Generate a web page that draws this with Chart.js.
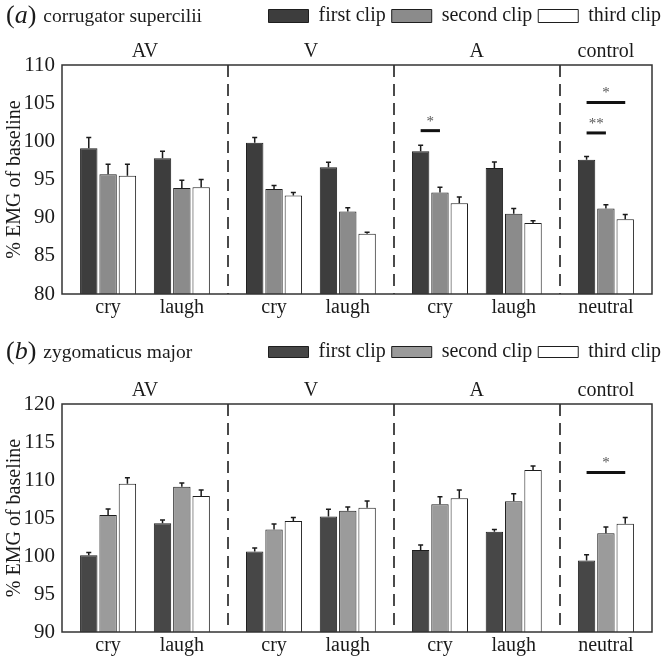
<!DOCTYPE html>
<html>
<head>
<meta charset="utf-8">
<script src="https://cdn.jsdelivr.net/npm/chart.js@4.4.1/dist/chart.umd.min.js"></script>
<style>
  body { margin: 0; background: #fff; }
  .panel { position: relative; width: 667px; height: 328px; }
</style>
</head>
<body>
<div class="panel"><canvas id="chartA"></canvas></div>
<div class="panel"><canvas id="chartB"></canvas></div>
<script>
const sections = ['AV', 'V', 'A', 'control'];
const catLabels = ['cry', 'laugh', 'cry', 'laugh', 'cry', 'laugh', 'neutral'];
const catSection = [0, 0, 1, 1, 2, 2, 3];
const seriesNames = ['first clip', 'second clip', 'third clip'];

// (a) corrugator supercilii
const corrFirst  = [99.1, 97.8, 99.8, 96.6, 98.7, 96.5, 97.6];
const corrSecond = [95.7, 93.9, 93.75, 90.8, 93.3, 90.5, 91.2];
const corrThird  = [95.5, 94.0, 92.9, 87.9, 91.9, 89.3, 89.8];
const corrFirstErr  = [1.4, 0.9, 0.7, 0.65, 0.8, 0.8, 0.4];
const corrSecondErr = [1.3, 1.0, 0.45, 0.5, 0.7, 0.7, 0.5];
const corrThirdErr  = [1.5, 1.0, 0.4, 0.2, 0.8, 0.3, 0.6];
const corrTicks = [80, 85, 90, 95, 100, 105, 110];
const corrSig = [
  { cat: 4, from: 0, to: 1, y: 101.4, mark: '*' },
  { cat: 6, from: 0, to: 1, y: 101.1, mark: '**' },
  { cat: 6, from: 0, to: 2, y: 105.1, mark: '*' }
];

// (b) zygomaticus major
const zygFirst  = [100.1, 104.3, 100.6, 105.2, 100.8, 103.2, 99.4];
const zygSecond = [105.4, 109.1, 103.5, 105.95, 106.8, 107.2, 103.0];
const zygThird  = [109.5, 107.9, 104.6, 106.35, 107.6, 111.3, 104.25];
const zygFirstErr  = [0.35, 0.45, 0.45, 0.95, 0.65, 0.3, 0.75];
const zygSecondErr = [0.8, 0.5, 0.7, 0.5, 1.0, 1.0, 0.8];
const zygThirdErr  = [0.8, 0.8, 0.45, 0.9, 1.1, 0.55, 0.8];
const zygTicks = [90, 95, 100, 105, 110, 115, 120];
const zygSig = [
  { cat: 6, from: 0, to: 2, y: 111.0, mark: '*' }
];

const FONT = 'Liberation Serif';

// x positions of the categories: 1 unit between cry/laugh, padding at section edges
const catPos = [];
const sectionEdges = [0];
let cursor = 0;
sections.forEach((s, si) => {
  const idx = catSection.map((v, i) => v === si ? i : -1).filter(i => i >= 0);
  cursor += 0.625;
  idx.forEach((i, k) => { catPos[i] = cursor + k; });
  cursor += (idx.length - 1) + 0.625;
  sectionEdges.push(cursor);
});

const panelDeco = {
  id: 'panelDeco',
  afterDatasetsDraw(chart) {
    const c = chart.ctx, a = chart.chartArea;
    const xs = chart.scales.x, ys = chart.scales.y;
    const cfg = chart.options.plugins.panelDeco;

    // error bars
    c.save();
    c.strokeStyle = '#1a1a1a';
    c.lineWidth = 1.5;
    chart.data.datasets.forEach((ds, d) => {
      chart.getDatasetMeta(d).data.forEach((bar, i) => {
        const top = ys.getPixelForValue(ds.data[i].y + ds.errors[i]);
        c.beginPath();
        c.moveTo(bar.x, bar.y);
        c.lineTo(bar.x, top);
        c.moveTo(bar.x - 2.5, top);
        c.lineTo(bar.x + 2.5, top);
        c.stroke();
      });
    });

    // dashed section dividers
    c.strokeStyle = '#4a4a4a';
    c.lineWidth = 2;
    c.setLineDash([12, 7]);
    sectionEdges.slice(1, -1).forEach(v => {
      const x = Math.round(xs.getPixelForValue(v));
      c.beginPath();
      c.moveTo(x, a.top);
      c.lineTo(x, a.bottom);
      c.stroke();
    });
    c.setLineDash([]);

    // significance bars
    cfg.sig.forEach(s => {
      const x1 = chart.getDatasetMeta(s.from).data[s.cat].x;
      const x2 = chart.getDatasetMeta(s.to).data[s.cat].x;
      const y = ys.getPixelForValue(s.y);
      c.strokeStyle = '#111';
      c.lineWidth = 3;
      c.beginPath();
      c.moveTo(x1, y);
      c.lineTo(x2, y);
      c.stroke();
      c.fillStyle = '#555';
      c.font = '15px ' + FONT;
      c.textAlign = 'center';
      c.textBaseline = 'middle';
      c.fillText(s.mark, (x1 + x2) / 2, y - 9);
    });

    // box
    c.strokeStyle = '#333';
    c.lineWidth = 1.5;
    c.strokeRect(a.left, a.top, a.right - a.left, a.bottom - a.top);

    // section labels
    c.fillStyle = '#1a1a1a';
    c.font = '20px ' + FONT;
    c.textAlign = 'center';
    c.textBaseline = 'middle';
    sections.forEach((s, si) => {
      const x = (xs.getPixelForValue(sectionEdges[si]) + xs.getPixelForValue(sectionEdges[si + 1])) / 2;
      c.fillText(s, x, a.top - 13);
    });

    // panel title
    c.textAlign = 'left';
    c.font = '26px ' + FONT;
    let x = 6;
    c.fillText('(', x, cfg.titleY); x += c.measureText('(').width;
    c.font = 'italic 26px ' + FONT;
    c.fillText(cfg.letter, x, cfg.titleY); x += c.measureText(cfg.letter).width;
    c.font = '26px ' + FONT;
    c.fillText(')', x, cfg.titleY); x += c.measureText(')').width + 7;
    c.font = '19.5px ' + FONT;
    c.fillText(cfg.title, x, cfg.titleY + 1);
    c.restore();
  }
};

function buildPanel(id, p) {
  const datasets = p.series.map((vals, s) => ({
    label: seriesNames[s],
    data: vals.map((v, i) => ({ x: catPos[i], y: v })),
    errors: p.errors[s],
    backgroundColor: p.colors[s],
    borderColor: '#1e1e1e',
    borderWidth: 1,
    categoryPercentage: 0.786,
    barPercentage: 0.9
  }));
  return new Chart(document.getElementById(id), {
    type: 'bar',
    data: { datasets },
    plugins: [panelDeco, {
      id: 'legendHeight',
      beforeInit(chart) {
        const fit = chart.legend.fit;
        chart.legend.fit = function () {
          fit.bind(chart.legend)();
          this.height = p.plotTop - p.padTop;
        };
      }
    }],
    options: {
      responsive: true,
      maintainAspectRatio: false,
      animation: false,
      layout: { padding: { left: 0, right: 0, top: p.padTop, bottom: 0 } },
      scales: {
        x: {
          type: 'linear',
          min: 0,
          max: sectionEdges[sectionEdges.length - 1],
          offset: false,
          grid: { display: false, offset: false, drawTicks: false },
          border: { display: false },
          afterBuildTicks: s => { s.ticks = catPos.map(v => ({ value: v })); },
          afterFit: s => { s.height = p.xAxisHeight; },
          ticks: {
            autoSkip: false, maxRotation: 0, padding: 2,
            color: '#1a1a1a', font: { family: FONT, size: 20 },
            callback: (v, i) => catLabels[i]
          }
        },
        y: {
          min: p.ticks[0],
          max: p.ticks[p.ticks.length - 1],
          afterBuildTicks: s => { s.ticks = p.ticks.map(v => ({ value: v })); },
          afterFit: s => { s.width = 62; },
          grid: { display: false, drawTicks: false },
          border: { display: false },
          ticks: { padding: 7, color: '#1a1a1a', font: { family: FONT, size: 21 } },
          title: {
            display: true, text: '% EMG of baseline', color: '#1a1a1a',
            font: { family: FONT, size: 20 }, padding: { top: 3, bottom: 0 }
          }
        },
        yRight: {
          position: 'right',
          display: true,
          min: p.ticks[0],
          max: p.ticks[p.ticks.length - 1],
          grid: { display: false, drawTicks: false },
          border: { display: false },
          ticks: { display: false },
          afterFit: s => { s.width = 15; }
        }
      },
      plugins: {
        tooltip: { enabled: false },
        legend: {
          position: 'top',
          align: 'end',
          labels: {
            boxWidth: 40, boxHeight: p.boxH, padding: 6,
            color: '#1a1a1a', font: { family: FONT, size: 20 }
          }
        },
        panelDeco: { sig: p.sig, letter: p.letter, title: p.title, titleY: p.titleY }
      }
    }
  });
}

buildPanel('chartA', {
  series: [corrFirst, corrSecond, corrThird],
  errors: [corrFirstErr, corrSecondErr, corrThirdErr],
  colors: ['#3d3d3d', '#8b8b8b', '#ffffff'],
  ticks: corrTicks, sig: corrSig,
  letter: 'a', title: 'corrugator supercilii', titleY: 16,
  plotTop: 65, padTop: 0, xAxisHeight: 34, boxH: 13
});

buildPanel('chartB', {
  series: [zygFirst, zygSecond, zygThird],
  errors: [zygFirstErr, zygSecondErr, zygThirdErr],
  colors: ['#474747', '#9b9b9b', '#ffffff'],
  ticks: zygTicks, sig: zygSig,
  letter: 'b', title: 'zygomaticus major', titleY: 24,
  plotTop: 76, padTop: 8, xAxisHeight: 24, boxH: 11
});
</script>
</body>
</html>
